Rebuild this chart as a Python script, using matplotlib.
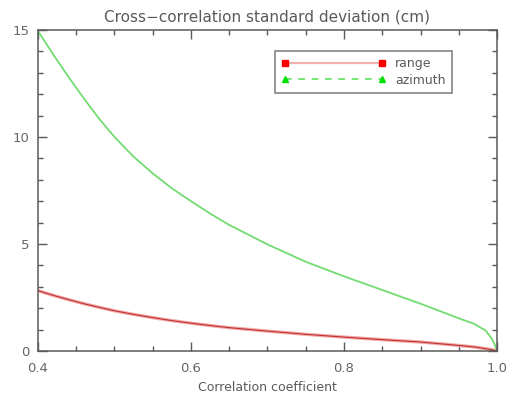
import matplotlib
matplotlib.use("Agg")
import matplotlib.pyplot as plt
from matplotlib.lines import Line2D
from matplotlib.ticker import MultipleLocator

# values
coef = [0.40, 0.42, 0.44, 0.46, 0.48, 0.50, 0.525, 0.55, 0.575, 0.60,
        0.625, 0.65, 0.70, 0.75, 0.80, 0.85, 0.90, 0.95, 0.97, 0.985,
        0.993, 0.997, 1.00]
azimuth = [14.95, 13.85, 12.8, 11.8, 10.85, 10.0, 9.08, 8.30, 7.6, 7.0,
           6.42, 5.89, 4.98, 4.17, 3.49, 2.85, 2.21, 1.53, 1.27, 0.96,
           0.59, 0.30, 0.0]
rng = [2.82, 2.60, 2.40, 2.21, 2.04, 1.88, 1.71, 1.56, 1.42, 1.30,
       1.19, 1.09, 0.93, 0.78, 0.65, 0.53, 0.42, 0.26, 0.19, 0.11,
       0.06, 0.03, 0.0]

title = "Cross\u2212correlation standard deviation (cm)"
xlabel = "Correlation coefficient"
grey = "#5a5a5a"

fig = plt.figure(figsize=(5.12, 3.95), dpi=100)
ax = fig.add_axes([38 / 512, 44 / 395, 459 / 512, 321 / 395])

# range: dark red core with a pink halo, like the antialiased original
ax.plot(coef, rng, color="#f2a8a8", lw=2.4, solid_capstyle="butt")
ax.plot(coef, rng, color="#c03232", lw=0.8)
ax.plot(coef, azimuth, color="#72dc72", lw=1.3)

ax.set_xlim(0.4, 1.0)
ax.set_ylim(0, 15)
ax.xaxis.set_major_locator(MultipleLocator(0.2))
ax.xaxis.set_minor_locator(MultipleLocator(0.05))
ax.yaxis.set_major_locator(MultipleLocator(5))
ax.yaxis.set_minor_locator(MultipleLocator(1))
ax.xaxis.set_major_formatter(lambda v, p: f"{v:.1f}")
ax.yaxis.set_major_formatter(lambda v, p: f"{v:.0f}")

ax.tick_params(which="both", direction="in", top=True, right=True,
               colors=grey, labelcolor="#666666", labelsize=9.5)
ax.tick_params(which="major", length=6.5, width=1, pad=6)
ax.tick_params(which="minor", length=3.5, width=1)
ax.tick_params(axis="x", which="major", pad=8)
for s in ax.spines.values():
    s.set_color(grey)
    s.set_linewidth(1.1)

ax.set_title(title, color=grey, fontsize=11, pad=6)
ax.set_xlabel(xlabel, color=grey, fontsize=9, labelpad=4)

handles = [
    Line2D([], [], color="#f2b0b0", lw=1.6, marker="s", markersize=4,
           markerfacecolor="#ff0000", markeredgecolor="#ff0000"),
    Line2D([], [], color="#5ee05e", lw=1.2, ls=(0, (4, 4)), marker="^",
           markersize=4, markerfacecolor="#00e000", markeredgecolor="#00e000"),
]
leg = ax.legend(handles, ["range", "azimuth"], loc="upper right",
                bbox_to_anchor=(0.902, 0.935), borderaxespad=0,
                numpoints=2, handlelength=8.3, handletextpad=0.8,
                fontsize=9, frameon=True, fancybox=False,
                labelspacing=0.3, borderpad=0.5)
leg.get_frame().set_edgecolor(grey)
leg.get_frame().set_linewidth(1.1)
for t in leg.get_texts():
    t.set_color(grey)

fig.savefig("out.png", dpi=100)
